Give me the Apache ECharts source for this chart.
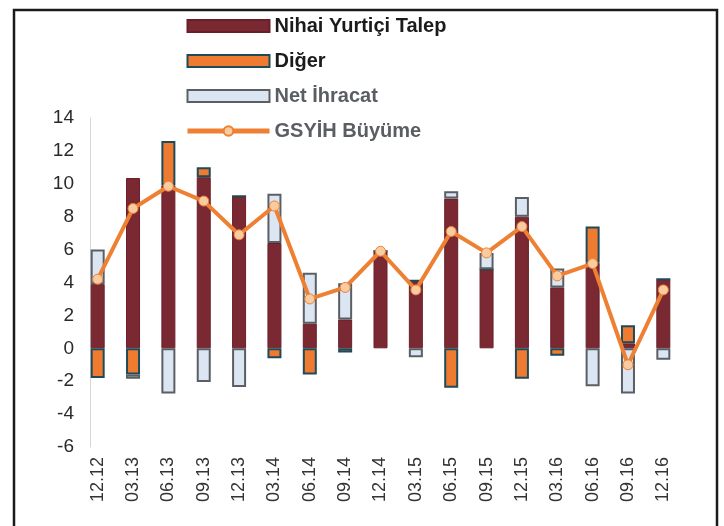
<!DOCTYPE html>
<html>
<head>
<meta charset="utf-8">
<title>GSYİH Büyüme</title>
<script src="https://cdn.jsdelivr.net/npm/echarts@6/dist/echarts.min.js"></script>
<style>
  html, body { margin: 0; padding: 0; background: #fff; }
  #chart { width: 724px; height: 526px; }
</style>
</head>
<body>
<div id="chart"></div>
<script>
// ceyrekler
const quarters = ['12.12', '03.13', '06.13', '09.13', '12.13', '03.14', '06.14', '09.14', '12.14',
  '03.15', '06.15', '09.15', '12.15', '03.16', '06.16', '09.16', '12.16']

// katkilar (yuzde puan)
const nihaiYurticiTalep = [3.9, 10.35, 9.9, 10.4, 9.25, 6.4, 1.5, 1.75, 5.9, 4.1, 9.1, 4.8, 8.0, 3.7, 5.2, 0.3, 4.2]
const diger = [-1.8, -1.6, 2.7, 0.6, 0, -0.6, -1.6, -0.25, 0, 0, -2.4, 0, -1.85, -0.45, 2.2, 1.1, 0]
const netIhracat = [2.1, -0.25, -2.75, -2.05, -2.35, 3.0, 3.1, 2.2, 0, -0.55, 0.45, 1.0, 1.2, 1.15, -2.3, -2.75, -0.7]
const gsyihBuyume = [4.2, 8.5, 9.85, 8.95, 6.9, 8.65, 3.0, 3.7, 5.9, 3.55, 7.1, 5.8, 7.4, 4.4, 5.15, -1.0, 3.55]

const font = 'Liberation Sans, Arial, sans-serif'

const chart = echarts.init(document.getElementById('chart'))
chart.setOption({
  animation: false,
  textStyle: { fontFamily: font },
  // cerceve
  graphic: [{
    type: 'rect',
    shape: { x: 14, y: 10, width: 703, height: 600 },
    style: { fill: 'none', stroke: '#1a1a1a', lineWidth: 2.5 },
    silent: true
  }],
  legend: {
    orient: 'vertical',
    left: 180,
    top: 11,
    itemWidth: 82,
    itemHeight: 12,
    itemGap: 15,
    textStyle: { fontSize: 20, fontWeight: 'bold', color: '#1b1b1b' },
    data: [
      { name: 'Nihai Yurtiçi Talep', icon: 'rect' },
      { name: 'Diğer', icon: 'rect' },
      { name: 'Net İhracat', icon: 'rect', textStyle: { color: '#5a5e63' } },
      { name: 'GSYİH Büyüme', lineStyle: { width: 5 }, textStyle: { color: '#5a5e63' } }
    ]
  },
  grid: {
    left: 80,
    top: 118,
    width: 601,
    bottom: 79
  },
  xAxis: {
    type: 'category',
    data: quarters,
    axisLine: { show: false, onZero: false },
    axisTick: { show: false },
    axisLabel: { rotate: 90, margin: 10, fontSize: 18, color: '#333' }
  },
  yAxis: {
    type: 'value',
    min: -6,
    max: 14,
    interval: 2,
    offset: -10,
    axisLine: { show: true, lineStyle: { color: '#d6d6d6', width: 1 } },
    axisTick: { show: false },
    splitLine: { show: false },
    axisLabel: { fontSize: 19, color: '#2a2a2a', margin: 16 }
  },
  series: [{
    name: 'Nihai Yurtiçi Talep',
    type: 'bar',
    stack: 'katki',
    barWidth: 14,
    data: nihaiYurticiTalep,
    itemStyle: { color: '#7a2932', borderColor: '#6a1f28', borderWidth: 1 }
  }, {
    name: 'Diğer',
    type: 'bar',
    stack: 'katki',
    barWidth: 14,
    data: diger,
    itemStyle: { color: '#ee7b30', borderColor: '#1f4a5a', borderWidth: 2 }
  }, {
    name: 'Net İhracat',
    type: 'bar',
    stack: 'katki',
    barWidth: 14,
    data: netIhracat,
    itemStyle: { color: '#dce6f2', borderColor: '#5a5f66', borderWidth: 2 }
  }, {
    name: 'GSYİH Büyüme',
    type: 'line',
    data: gsyihBuyume,
    symbol: 'circle',
    symbolSize: 10,
    lineStyle: { color: '#ee8033', width: 4 },
    itemStyle: { color: '#f8cba0', borderColor: '#ee8033', borderWidth: 1 },
    z: 5
  }]
})
</script>
</body>
</html>
